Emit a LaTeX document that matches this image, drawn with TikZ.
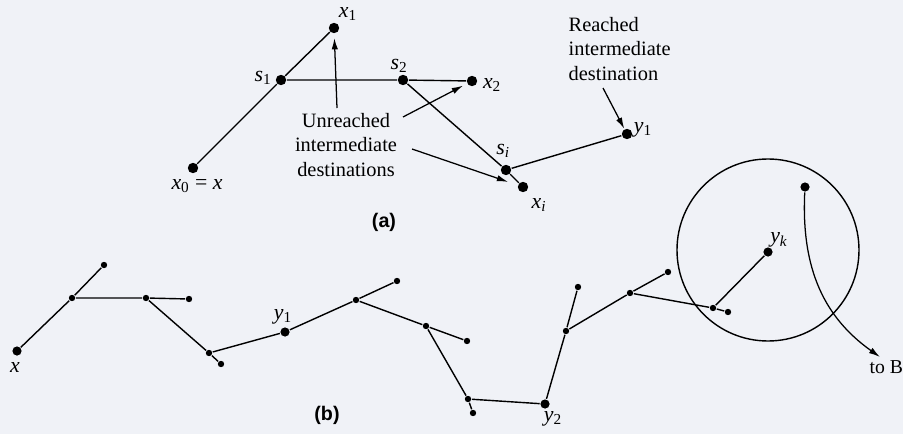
\documentclass[tikz,border=0pt]{standalone}
\usepackage{fontspec}
\setmainfont{Liberation Serif}
\newfontfamily\panelfont{Liberation Sans}
\usetikzlibrary{arrows.meta}
\definecolor{paper}{RGB}{240,242,247}
\newcommand{\vname}[2]{\textit{#1}\textsubscript{#2}}

\begin{document}
\begin{tikzpicture}[x=0.025cm, y=-0.025cm, >={Latex[length=8pt,width=4.5pt]}, line width=1pt, font=\fontsize{14.5}{17.7}\selectfont]
	\tikzset{
		bigdot/.style={circle, fill=black, inner sep=0pt, minimum size=0.26cm},
		middot/.style={circle, fill=black, inner sep=0pt, minimum size=0.23cm},
		smalldot/.style={circle, fill=black, inner sep=0pt, minimum size=0.16cm},
		tag/.style={inner sep=0pt, font=\fontsize{15.5}{18}\selectfont},
		note/.style={inner sep=0pt, align=center},
		panel/.style={inner sep=0pt, font=\panelfont\bfseries\fontsize{14}{16}\selectfont},
		arrow/.style={->, line width=0.9pt, shorten >=#1},
		arrow/.default=0pt,
	}
	\fill[paper] (0,0) rectangle (903,434);
	\useasboundingbox (0,0) rectangle (903,434);
	%Part (a)
	\node[bigdot] (x0) at (193,168) {};
	\node[bigdot] (s1) at (281,80) {};
	\node[bigdot] (x1) at (334,28) {};
	\node[bigdot] (s2) at (403,80) {};
	\node[bigdot] (x2) at (472,81) {};
	\node[bigdot] (si) at (506,170) {};
	\node[bigdot] (xi) at (523,187) {};
	\node[bigdot] (ya) at (627,134) {};
	\node[tag] (x0tag) at (197,186) {\vname{x}{0} = \textit{x}};
	\node[tag] (s1tag) at (263,78) {\vname{s}{1}};
	\node[tag] (x1tag) at (348,14) {\vname{x}{1}};
	\node[tag] (s2tag) at (399,66) {\vname{s}{2}};
	\node[tag] (x2tag) at (492,85) {\vname{x}{2}};
	\node[tag] (sitag) at (503,151) {\vname{s}{\textit{i}}};
	\node[tag] (xitag) at (539,205) {\vname{x}{\textit{i}}};
	\node[tag] (yatag) at (643,130) {\vname{y}{1}};
	\node[note] (unreached) at (346,145) {Unreached\\intermediate\\destinations};
	\node[note, align=left, anchor=west] (reached) at (568,49) {Reached\\intermediate\\destination};
	\node[panel] (pa) at (384,222) {(a)};
	\coordinate (tail1) at (337,108);
	\coordinate (tail2) at (403,117);
	\coordinate (tail3) at (412,149);
	\coordinate (tail4) at (603,88);
	%Part (b)
	\node[middot] (bx) at (17,351) {};
	\node[smalldot] (p1) at (72,298) {};
	\node[smalldot] (p2) at (104,265) {};
	\node[smalldot] (p3) at (146,298) {};
	\node[smalldot] (p4) at (189,299) {};
	\node[smalldot] (p5) at (209,353) {};
	\node[smalldot] (p6) at (221,364) {};
	\node[middot] (by1) at (285,332) {};
	\node[smalldot] (q1) at (356,300) {};
	\node[smalldot] (q2) at (397,281) {};
	\node[smalldot] (q3) at (426,326) {};
	\node[smalldot] (q4) at (467,341) {};
	\node[smalldot] (q5) at (468,399) {};
	\node[smalldot] (q6) at (473,413) {};
	\node[middot] (by2) at (545,404) {};
	\node[smalldot] (r1) at (566,331) {};
	\node[smalldot] (r2) at (578,287) {};
	\node[smalldot] (r3) at (630,293) {};
	\node[smalldot] (r4) at (668,272) {};
	\node[smalldot] (r5) at (713,308) {};
	\node[smalldot] (r6) at (728,312) {};
	\node[middot] (byk) at (768,252) {};
	\node[middot] (w) at (805,187) {};
	\node[tag] (bxtag) at (15,367) {\textit{x}};
	\node[tag] (by1tag) at (283,317) {\vname{y}{1}};
	\node[tag] (by2tag) at (553,419) {\vname{y}{2}};
	\node[tag] (byktag) at (779,240) {\vname{y}{\textit{k}}};
	\node[tag, anchor=west, font=\fontsize{14}{16}\selectfont] (toB) at (869,367) {to B};
	\node[panel] (pb) at (327,415) {(b)};
	\coordinate (exitB) at (880,357);
	%Draw edges
	\draw (x0) -- (s1) -- (x1);
	\draw (s1) -- (s2) -- (x2);
	\draw (s2) -- (si) -- (xi);
	\draw (si) -- (ya);
	\draw (bx) -- (p1) -- (p2);
	\draw (p1) -- (p3) -- (p4);
	\draw (p3) -- (p5) -- (p6);
	\draw (p5) -- (by1) -- (q1) -- (q2);
	\draw (q1) -- (q3) -- (q4);
	\draw (q3) -- (q5) -- (q6);
	\draw (q5) -- (by2) -- (r1) -- (r2);
	\draw (r1) -- (r3) -- (r4);
	\draw (r3) -- (r5) -- (r6);
	\draw (r5) -- (byk);
	\draw (768,250) circle (91);
	%Draw arrows
	\draw[arrow=3pt] (tail1) -- (x1);
	\draw[arrow=3pt] (tail2) -- (x2);
	\draw[arrow=7pt] (tail3) -- (xi);
	\draw[arrow] (tail4) -- (ya);
	\draw[arrow] (w) .. controls (801,270) and (825,318) .. (exitB);
\end{tikzpicture}
\end{document}
